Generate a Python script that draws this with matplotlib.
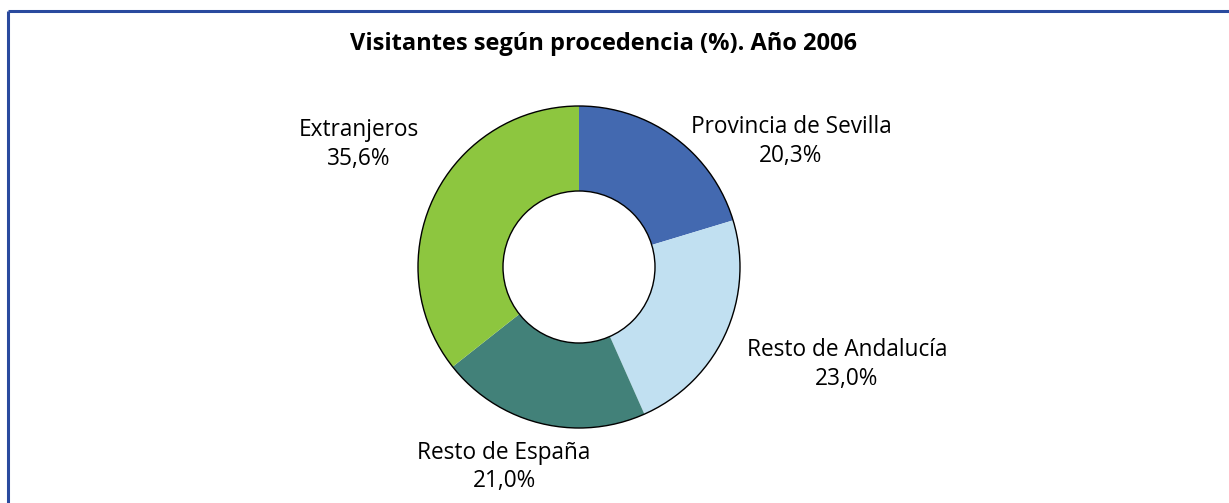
import matplotlib
matplotlib.use("Agg")
import matplotlib.pyplot as plt
from matplotlib.patches import Circle
from matplotlib.lines import Line2D

# ---- data ----
categories = ["Provincia de Sevilla", "Resto de Andalucía", "Resto de España", "Extranjeros"]
values = [20.3, 23.0, 21.0, 35.6]
title = "Visitantes según procedencia (%). Año 2006"

# ---- style / layout ----
colors = ["#4369B0", "#C1E0F1", "#428179", "#8DC63F"]
W, H = 1229, 503
cx, cy = 579, H - 267
r_out, r_in = 161, 76
# label centres (pixel coords, from top)
label_pos = [(791, 141.5), (847, 364.5), (504, 467), (359, 144.5)]
line_gap = 28.5

plt.rcParams['font.family'] = ['Open Sans', 'DejaVu Sans']

fig = plt.figure(figsize=(W / 100, H / 100), dpi=100)
ax = fig.add_axes([0, 0, 1, 1])

ax.pie(values, colors=colors, startangle=90, counterclock=False,
       radius=r_out, center=(cx, cy),
       wedgeprops=dict(width=r_out - r_in, edgecolor='none', linewidth=0))
ax.add_patch(Circle((cx, cy), r_out, fill=False, edgecolor='black', linewidth=1.0))
ax.add_patch(Circle((cx, cy), r_in, facecolor='white', edgecolor='black', linewidth=1.0))

ax.set_xlim(0, W)
ax.set_ylim(0, H)
ax.set_aspect('auto')
ax.axis('off')

# frame lines (top and left)
bc = "#2A4A9E"
ax.add_line(Line2D([8, W], [H - 11, H - 11], color=bc, linewidth=2.2, solid_capstyle='butt'))
ax.add_line(Line2D([8, 8], [H - 11, 0], color=bc, linewidth=2.2, solid_capstyle='butt'))

ax.text(604, H - 44, title, ha='center', va='center', fontsize=17,
        fontweight='bold', color='black')

for name, v, (lx, ly) in zip(categories, values, label_pos):
    pct = f"{v:.1f}".replace('.', ',') + "%"
    ax.text(lx, H - (ly - line_gap / 2), name, ha='center', va='center',
            fontsize=16.3, color='black')
    ax.text(lx, H - (ly + line_gap / 2), pct, ha='center', va='center',
            fontsize=16.3, color='black')

fig.savefig("out.png", dpi=100, facecolor='white')
